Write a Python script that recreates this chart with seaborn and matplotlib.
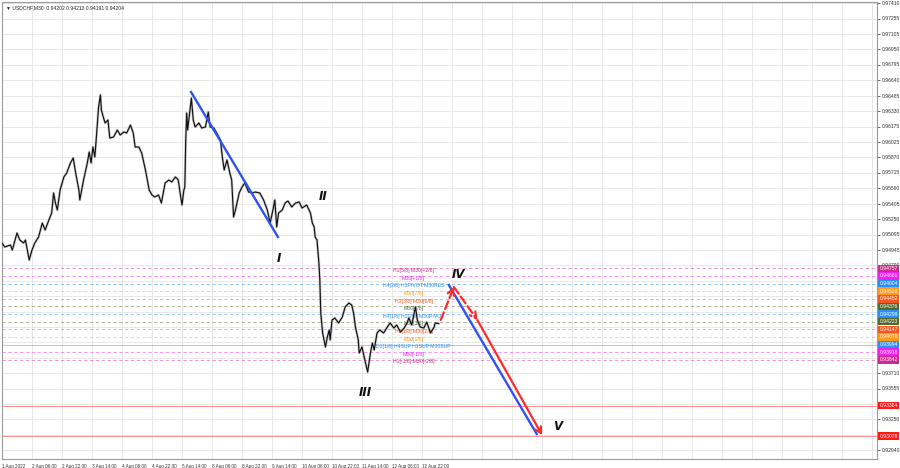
import matplotlib
matplotlib.use("Agg")
import matplotlib.pyplot as plt
import matplotlib.transforms as mtrans
import pandas as pd
import seaborn as sns

sns.set_theme(style="white")
plt.rcParams["font.family"] = ["Liberation Sans", "DejaVu Sans"]

symbol = "USDCHF,M30"
last_ohlc = [0.94202, 0.94213, 0.94191, 0.94204]

# bar number (M30 bars from the left edge) and close
bars = [0, 3, 9, 11, 16, 19, 23, 25, 29, 32,
        35, 39, 43, 46, 50, 53, 55, 57, 59, 62,
        66, 69, 73, 76, 78, 82, 83, 87, 91, 93,
        95, 97, 99, 101, 103, 105, 106, 108, 110, 113,
        115, 119, 123, 126, 130, 133, 137, 140, 142, 146,
        149, 153, 157, 160, 163, 167, 170, 174, 178, 181,
        185, 188, 190, 192, 194, 195,
        196, 197, 198, 202, 204, 206, 210, 213, 217, 220,
        222, 226, 229, 233, 235, 237, 240, 243, 245, 247,
        249, 253, 256, 259, 263, 267, 270, 275, 279, 283,
        286, 289, 291, 293, 295, 299, 302, 305, 309, 313,
        317, 320, 325, 329, 331, 333, 334, 336, 338, 339,
        340, 342, 345, 347, 349, 350, 352, 355, 359, 363,
        366, 370, 373, 375, 377, 380, 381, 384, 387, 390,
        393, 395, 397, 400, 403, 407, 411, 414, 418, 421,
        425, 429, 432, 434, 437, 441, 443, 446, 450, 453,
        457, 461, 462, 466]
closes = [0.9501, 0.9497, 0.9499, 0.9494, 0.9511, 0.9504, 0.9501, 0.9504, 0.9484, 0.9494,
          0.9501, 0.9507, 0.9521, 0.9514, 0.9524, 0.9531, 0.9551, 0.9541, 0.9534, 0.9554,
          0.9567, 0.9571, 0.9581, 0.9586, 0.9574, 0.9554, 0.9544, 0.9564, 0.9581, 0.9592,
          0.9581, 0.9597, 0.9587, 0.9611, 0.9637, 0.9649, 0.9634, 0.9627, 0.9621, 0.9624,
          0.9606, 0.9607, 0.9614, 0.9609, 0.9612, 0.9611, 0.9619, 0.9611, 0.9597, 0.9597,
          0.9591, 0.9574, 0.9554, 0.9549, 0.9547, 0.9549, 0.9541, 0.9561, 0.9564, 0.9562,
          0.9567, 0.9564, 0.9551, 0.9539, 0.9554, 0.9557,
          0.9604, 0.9631, 0.9614, 0.9646, 0.9624, 0.9617, 0.9621, 0.9616, 0.9617, 0.9632,
          0.9617, 0.9616, 0.9611, 0.9604, 0.9587, 0.9574, 0.9584, 0.9571, 0.9564, 0.9527,
          0.9534, 0.9551, 0.9557, 0.9561, 0.9552, 0.9551, 0.9552, 0.9551, 0.9544, 0.9534,
          0.9521, 0.9534, 0.9544, 0.9517, 0.9531, 0.9534, 0.9541, 0.9543, 0.9537, 0.9541,
          0.9542, 0.9536, 0.9539, 0.9531, 0.9521, 0.9517, 0.9507, 0.9504, 0.9481, 0.9464,
          0.9431, 0.9411, 0.9397, 0.9407, 0.9414, 0.9404, 0.9424, 0.9426, 0.9421, 0.9427,
          0.9437, 0.9441, 0.9439, 0.9431, 0.9417, 0.9404, 0.9391, 0.9397, 0.9384, 0.9372,
          0.9391, 0.9401, 0.9394, 0.9411, 0.9414, 0.9411, 0.9417, 0.9421, 0.9416, 0.9419,
          0.9412, 0.9416, 0.9421, 0.9426, 0.9419, 0.9437, 0.9424, 0.9417, 0.9416, 0.9422,
          0.9411, 0.9417, 0.9421, 0.94204]

time_labels = ["1 Aug 2022", "2 Aug 06:00", "2 Aug 22:00", "3 Aug 14:00", "4 Aug 06:00",
               "4 Aug 22:00", "5 Aug 14:00", "8 Aug 06:00", "8 Aug 22:00", "9 Aug 14:00",
               "10 Aug 06:00", "10 Aug 22:00", "11 Aug 14:00", "12 Aug 06:00", "12 Aug 22:00"]
price_ticks = [0.97410, 0.97255, 0.97105, 0.96950, 0.96795, 0.96640, 0.96485, 0.96330,
               0.96175, 0.96025, 0.95870, 0.95715, 0.95560, 0.95405, 0.95250, 0.95095,
               0.94945, 0.94790, 0.94635, 0.94480, 0.94325, 0.94170, 0.94020, 0.93865,
               0.93710, 0.93555, 0.93400, 0.93250, 0.93095, 0.92940]
# scale labels that sit fully under the coloured level boxes
hidden_ticks = [0.94635, 0.94480, 0.94325, 0.94170, 0.94020, 0.93865]

# murrey math levels
level_prices = [0.94757, 0.94681, 0.94604, 0.94528, 0.94452, 0.94376, 0.94299,
                0.94223, 0.94147, 0.94070, 0.93994, 0.93918, 0.93842]
level_names = ["H1[5/8] M30[+2/8]", "M30[+1/8]", "H4[2/8] H1PIVOT M30RES", "M30[7/8]",
               "H1[3/8] M30[6/8]", "M30[5/8]", "H4[1/8] H1[2/8] M30PIVOT", "M30[3/8]",
               "H1[1/8] M30[2/8]", "M30[1/8]", "D1[1/8] H4SUP H1SUP M30SUP", "M30[-1/8]",
               "H1[-1/8] M30[-2/8]"]
level_colors = ["#cc2a92", "#f01ef0", "#2a8ff5", "#ff9a1f", "#f4561f", "#55692f", "#2a8ff5",
                "#55692f", "#f4561f", "#ff9a1f", "#2a8ff5", "#f01ef0", "#cc2a92"]
red_levels = [0.93384, 0.93078]

wave_names = ["I", "II", "III", "IV", "V"]
wave_bars = [295, 342, 388, 487, 593]
wave_prices = [0.9485, 0.9548, 0.9352, 0.9470, 0.9318]

blue_lines = [([201, 295], [0.9653, 0.9506]), ([476, 571], [0.9460, 0.9309])]
red_path_bars = [468, 482, 507, 576]
red_path_prices = [0.9424, 0.9457, 0.9424, 0.9309]

df = pd.DataFrame({"bar": bars, "close": closes})

fig = plt.figure(figsize=(9, 4.68), dpi=100)
ax = fig.add_axes([2 / 900, 9 / 468, 875 / 900, 457 / 468])
ax.set_facecolor("white")

# grid, every 32 bars and every price label
xt = [32 * k for k in range(30)]
for x in xt:
    ax.axvline(x, color="#e4e4e4", lw=0.6, zorder=0)
for p in price_ticks:
    ax.axhline(p, color="#e4e4e4", lw=0.6, zorder=0)

for p, name, c in zip(level_prices, level_names, level_colors):
    ls = "-" if "SUP" in name else (0, (4, 3))
    ax.axhline(p, color=c, lw=0.6, ls=ls, alpha=0.55, zorder=1)
    ax.text(439, p + 0.00003, name, color=c, fontsize=3.7, ha="center", va="top", zorder=2)
for p in red_levels:
    ax.axhline(p, color="#ff7070", lw=0.7, alpha=0.8, zorder=1)

# candles drawn as a close line with a grey halo for the wicks
sns.lineplot(data=df, x="bar", y="close", ax=ax, color="#a8a8a8", lw=1.9, alpha=0.55,
             estimator=None, zorder=3)
sns.lineplot(data=df, x="bar", y="close", ax=ax, color="#111111", lw=0.85,
             estimator=None, zorder=4)

for bx, py in blue_lines:
    ax.plot(bx, py, color="#2f52f2", lw=1.7, zorder=5, solid_capstyle="butt")

for i in range(len(red_path_bars) - 1):
    ls = "-" if i == len(red_path_bars) - 2 else "--"
    ax.annotate("", xy=(red_path_bars[i + 1], red_path_prices[i + 1]),
                xytext=(red_path_bars[i], red_path_prices[i]),
                arrowprops=dict(arrowstyle="->,head_length=0.35,head_width=0.2",
                                color="#ff2a2a", lw=1.6, ls=ls, shrinkA=0, shrinkB=0),
                zorder=6)

for name, bx, py in zip(wave_names, wave_bars, wave_prices):
    ax.text(bx, py, name, fontsize=8.5, fontweight="bold", fontstyle="italic",
            family=["DejaVu Sans"], ha="center", va="center", color="#111111", zorder=7)

ax.set_xlim(0, 933.3)
ax.set_ylim(0.92850, 0.97420)
ax.set_xlabel("")
ax.set_ylabel("")

ax.set_xticks(xt)
ax.set_xticklabels(time_labels + [""] * (len(xt) - len(time_labels)))
for lbl in ax.get_xticklabels():
    lbl.set_horizontalalignment("left")
ax.yaxis.tick_right()
ax.set_yticks(price_ticks)
ax.set_yticklabels(["" if p in hidden_ticks else f"{p:.5f}" for p in price_ticks])
ax.tick_params(axis="both", colors="#333333", length=2, width=0.5, pad=1)
ax.tick_params(axis="x", pad=1.5, labelsize=3.35)
ax.tick_params(axis="y", pad=1.5, labelsize=3.6)

for s in ax.spines.values():
    s.set_color("#9a9a9a")
    s.set_linewidth(0.8)

# coloured price boxes on the scale
trans = mtrans.blended_transform_factory(ax.transAxes, ax.transData)
for p, c in zip(level_prices + red_levels, level_colors + ["#ff1a1a", "#ff1a1a"]):
    ax.text(1.003, p, f"{p:.5f}", transform=trans, fontsize=3.6, color="white",
            ha="left", va="center", clip_on=False, zorder=10,
            bbox=dict(boxstyle="square,pad=0.25", fc=c, ec="none"))

ax.text(0.004, 0.993, "\u25bc " + symbol + "  " + " ".join(f"{v:.5f}" for v in last_ohlc),
        transform=ax.transAxes, fontsize=3.6, color="#222222", ha="left", va="top",
        family=["Liberation Sans", "DejaVu Sans"])

fig.savefig("out.png", dpi=100)
